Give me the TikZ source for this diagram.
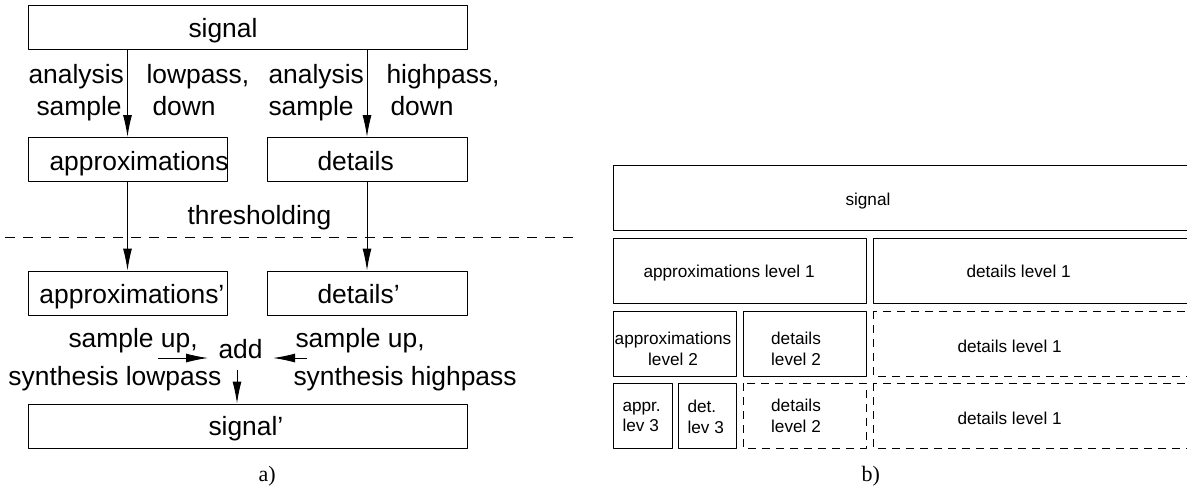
\documentclass[tikz,border=0pt]{standalone}
\usepackage{fontspec}
\setmainfont{Liberation Serif}
\setsansfont{Liberation Sans}
\usetikzlibrary{arrows.meta}
\begin{document}
\begin{tikzpicture}[>={Latex[length=11pt,width=4.5pt]},line join=bevel,x=0.5pt,y=-0.5pt,line width=0.5pt,
  box/.style={draw,inner sep=0pt,minimum height=22pt,minimum width=#1},
  lbl/.style={font=\sffamily\fontsize{13.2}{15.8}\selectfont,inner sep=0pt,anchor=base west},
  sm/.style={font=\sffamily\fontsize{8.6}{10.3}\selectfont,inner sep=0pt,align=center},
  captext/.style={font=\fontsize{11}{13}\selectfont,inner sep=0pt,anchor=base west},
  cell/.style={draw},
  cellgone/.style={draw,dash pattern=on 4pt off 3pt}]
\path[use as bounding box,clip] (0,0) rectangle (1187,489);
%% a) decomposition and reconstruction
\node (sigA) at (247.5,27) [box=219.5pt] {};
  \node (apprA) at (127.5,159.5) [box=99.5pt] {};
  \node (detA) at (367,159.5) [box=100pt] {};
  \node (apprP) at (127.5,293) [box=99.5pt] {};
  \node (detP) at (367,293) [box=100pt] {};
  \node (sigP) at (247.5,426) [box=219.5pt] {};
%
\node (sigAt) at (188,37) [lbl] {signal};
  \node (anL) at (28,83) [lbl] {analysis};
  \node (lpL) at (146,83) [lbl] {lowpass,};
  \node (saL) at (36,115) [lbl] {sample};
  \node (dnL) at (152,115) [lbl] {down};
  \node (anR) at (268,83) [lbl] {analysis};
  \node (hpR) at (386,83) [lbl] {highpass,};
  \node (saR) at (268,115) [lbl] {sample};
  \node (dnR) at (390,115) [lbl] {down};
  \node (apprAt) at (49,170) [lbl] {approximations};
  \node (detAt) at (317,170) [lbl] {details};
  \node (thr) at (187,224) [lbl] {thresholding};
  \node (apprPt) at (39,303) [lbl] {approximations'};
  \node (detPt) at (317,303) [lbl] {details'};
  \node (suL) at (68,347) [lbl] {sample up,};
  \node (suR) at (295,347) [lbl] {sample up,};
  \node (add) at (208,358) [lbl,inner xsep=5pt] {add};
  \node (synL) at (8,385) [lbl] {synthesis lowpass};
  \node (synR) at (293,385) [lbl] {synthesis highpass};
  \node (sigPt) at (208,435) [lbl] {signal'};
  \node (capA) at (258,481) [captext] {a)};
%
\coordinate (thrW) at (5,237);
  \coordinate (thrE) at (575,237);
  \coordinate (lowin) at (158,358);
  \coordinate (highin) at (307,358);
  \coordinate (addout) at (237,370);
  \draw [dash pattern=on 5pt off 4pt] (thrW) -- (thrE);
  \draw [black,->] (sigA.south -| apprA.north) -- (apprA.north);
  \draw [black,->] (sigA.south -| detA.north) -- (detA.north);
  \draw [black,->] (apprA.south) -- (apprP.north);
  \draw [black,->] (detA.south) -- (detP.north);
  \draw [black,->] (lowin) -- (add.west |- lowin);
  \draw [black,->] (highin) -- (add.east |- highin);
  \draw [black,->] (addout) -- (sigP.north -| addout);
%% b) tiling of the coefficients
\draw [cell] (613,165) rectangle (1195,230);
  \draw [cell] (613,238) rectangle (866,303);
  \draw [cell] (873,238) rectangle (1195,303);
  \draw [cell] (613,311) rectangle (736,376);
  \draw [cell] (743,311) rectangle (866,376);
  \draw [cellgone] (873,311) rectangle (1195,376);
  \draw [cell] (613,383) rectangle (672,448);
  \draw [cell] (678,383) rectangle (736,448);
  \draw [cellgone] (743,383) rectangle (866,448);
  \draw [cellgone] (873,383) rectangle (1195,448);
%
\node (bsig) at (845,205) [sm,anchor=base west] {signal};
  \node (bappr1) at (643,277) [sm,anchor=base west] {approximations level 1};
  \node (bdet1) at (966,277) [sm,anchor=base west] {details level 1};
  \node (bappr2) at (673,349) [sm] {approximations\\level 2};
  \node (bdet2) at (796,349) [sm] {details\\level 2};
  \node (bdet1b) at (957,352) [sm,anchor=base west] {details level 1};
  \node (bappr3) at (622,417) [sm,align=left,anchor=west] {appr.\\lev 3};
  \node (bdet3) at (687,417) [sm,align=left,anchor=west] {det.\\lev 3};
  \node (bdet2b) at (796,416) [sm] {details\\level 2};
  \node (bdet1c) at (957,424) [sm,anchor=base west] {details level 1};
  \node (capB) at (861,481) [captext] {b)};
%
\end{tikzpicture}
\end{document}
